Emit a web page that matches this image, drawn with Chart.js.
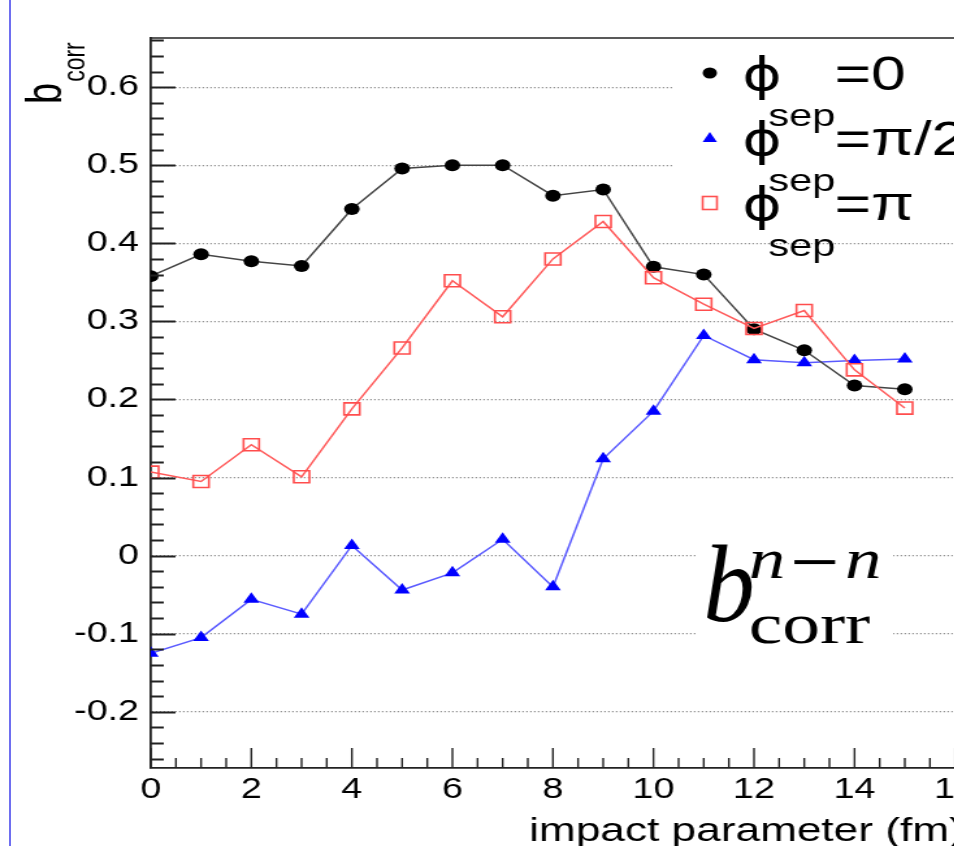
<!DOCTYPE html>
<html>
<head>
<meta charset="utf-8">
<script src="https://cdn.jsdelivr.net/npm/chart.js@4.4.1/dist/chart.umd.min.js"></script>
<style>
  html, body { margin: 0; padding: 0; background: #fff; overflow: hidden; }
  #marco { position: relative; width: 954px; height: 846px; overflow: hidden; }
  /* la figura original esta estirada en horizontal */
  #grafica { position: absolute; left: 0; top: 0; transform: scaleX(1.3); transform-origin: 0 0; }
  #borde { position: absolute; left: 9px; top: 0; width: 2px; height: 846px; background: #6e6ef0; }
</style>
</head>
<body>
<div id="marco">
  <canvas id="grafica" width="770" height="846"></canvas>
  <div id="borde"></div>
</div>
<script>
// parametro de impacto (fm)
const impactParam = [0, 1, 2, 3, 4, 5, 6, 7, 8, 9, 10, 11, 12, 13, 14, 15];
// b_corr para cada phi_sep
const phiSep0     = [0.358, 0.386, 0.377, 0.371, 0.444, 0.496, 0.500, 0.500, 0.461, 0.469, 0.370, 0.360, 0.290, 0.263, 0.218, 0.213];
const phiSepPi2   = [-0.125, -0.105, -0.056, -0.075, 0.013, -0.044, -0.022, 0.021, -0.040, 0.124, 0.185, 0.282, 0.251, 0.247, 0.250, 0.252];
const phiSepPi    = [0.107, 0.095, 0.142, 0.101, 0.188, 0.266, 0.352, 0.306, 0.380, 0.428, 0.356, 0.322, 0.291, 0.314, 0.238, 0.189];
// etiquetas de los ejes
const xTicks = [0, 2, 4, 6, 8, 10, 12, 14, 16];
const yTicks = [-0.2, -0.1, 0, 0.1, 0.2, 0.3, 0.4, 0.5, 0.6];

const SANS = '"Liberation Sans", Arial, Helvetica, sans-serif';
const SERIF = '"Liberation Serif", "Times New Roman", serif';

function puntos(ys) {
    return impactParam.map((x, i) => ({ x: x, y: ys[i] }));
}

function marcador(ctx, tipo, x, y, color) {
    ctx.save();
    ctx.beginPath();
    if (tipo === 'circle') {
        ctx.fillStyle = color;
        ctx.arc(x, y, 5.5, 0, Math.PI * 2);
        ctx.fill();
    } else if (tipo === 'triangle') {
        ctx.fillStyle = color;
        ctx.moveTo(x, y - 6);
        ctx.lineTo(x + 5.5, y + 4);
        ctx.lineTo(x - 5.5, y + 4);
        ctx.closePath();
        ctx.fill();
    } else {
        ctx.strokeStyle = color;
        ctx.lineWidth = 1.6;
        ctx.strokeRect(x - 5.5, y - 6.5, 11, 13);
    }
    ctx.restore();
}

const adornos = {
    id: 'adornos',
    beforeDatasetsDraw(chart) {
        const ctx = chart.ctx;
        ctx.save();
        ctx.fillStyle = '#fff';
        ctx.fillRect(517, 42, 260, 192);   // caja de la leyenda
        ctx.fillRect(536, 528, 151, 128);  // caja de la etiqueta
        ctx.restore();
    },
    afterDraw(chart) {
        const ctx = chart.ctx;
        const a = chart.chartArea;
        const xs = chart.scales.x, ys = chart.scales.y;

        // marco superior y marcas hacia dentro
        ctx.save();
        ctx.strokeStyle = '#222';
        ctx.lineWidth = 1.6;
        ctx.beginPath();
        ctx.moveTo(a.left, a.top);
        ctx.lineTo(a.right, a.top);
        ctx.stroke();
        ctx.beginPath();
        ctx.lineWidth = 1.8;
        for (let i = Math.ceil(ys.min / 0.02); i * 0.02 <= ys.max + 1e-9; i++) {
            const py = Math.round(ys.getPixelForValue(i * 0.02)) + 0.5;
            const largo = (i % 5 === 0) ? 19 : 10;
            ctx.moveTo(a.left, py);
            ctx.lineTo(a.left + largo, py);
        }
        ctx.stroke();
        ctx.beginPath();
        ctx.lineWidth = 1.4;
        for (let i = 0; i * 0.5 <= xs.max + 1e-9; i++) {
            const px = xs.getPixelForValue(i * 0.5);
            const largo = (i % 4 === 0) ? 20 : 10;
            ctx.moveTo(px, a.bottom);
            ctx.lineTo(px, a.bottom - largo);
        }
        ctx.stroke();
        ctx.restore();

        // titulo del eje y: b_corr (girado)
        ctx.save();
        ctx.translate(47, 104);
        ctx.rotate(-Math.PI / 2);
        ctx.fillStyle = '#000';
        ctx.textBaseline = 'alphabetic';
        ctx.font = '38px ' + SANS;
        ctx.fillText('b', 0, 0);
        const anchoB = ctx.measureText('b').width;
        ctx.font = '23px ' + SANS;
        ctx.fillText('corr', anchoB + 1, 18);
        ctx.restore();

        // titulo del eje x
        ctx.save();
        ctx.fillStyle = '#000';
        ctx.font = '34px ' + SANS;
        ctx.textBaseline = 'alphabetic';
        ctx.fillText('impact parameter (fm)', 407, 841);
        ctx.restore();

        // leyenda
        const filas = [
            { tipo: 'circle', color: '#000', texto: '=0' },
            { tipo: 'triangle', color: '#0000ff', texto: '=\u03c0/2' },
            { tipo: 'rect', color: '#ff5050', texto: '=\u03c0' }
        ];
        ctx.save();
        ctx.fillStyle = '#000';
        ctx.textBaseline = 'alphabetic';
        filas.forEach((f, i) => {
            const yc = 73 + i * 65;
            marcador(ctx, f.tipo, 546, yc, f.color);
            ctx.font = '46px "DejaVu Sans", ' + SANS;
            ctx.fillText('\u03d5', 571, yc + 17);
            ctx.font = '48px ' + SANS;
            ctx.fillText(f.texto, 642, yc + 17);
            ctx.font = '32px ' + SANS;
            ctx.fillText('sep', 591, yc + 53);
        });
        ctx.restore();

        // etiqueta b_corr^{n-n}
        ctx.save();
        ctx.fillStyle = '#000';
        ctx.textBaseline = 'alphabetic';
        ctx.save();
        ctx.translate(541, 621);
        ctx.scale(0.72, 1);
        ctx.font = 'italic 110px ' + SERIF;
        ctx.fillText('b', 0, 0);
        ctx.restore();
        ctx.font = 'italic 56px ' + SERIF;
        ctx.fillText('n', 576, 578);
        ctx.fillText('n', 650, 578);
        ctx.font = '50px "DejaVu Serif", ' + SERIF;
        ctx.fillText('\u2212', 606, 578);
        ctx.font = '58px ' + SERIF;
        ctx.fillText('corr', 576, 643);
        ctx.restore();
    }
};

const ctx = document.getElementById('grafica').getContext('2d');
const chart = new Chart(ctx, {
    type: 'line',
    data: {
        datasets: [
            {
                label: 'phi_sep = pi',
                data: puntos(phiSepPi),
                borderColor: '#ff5a5a',
                borderWidth: 1.5,
                pointStyle: 'rect',
                pointRadius: 8.5,
                pointBorderWidth: 1.6,
                pointBorderColor: '#ff4d4d',
                pointBackgroundColor: 'rgba(0,0,0,0)',
                tension: 0,
                order: 0
            },
            {
                label: 'phi_sep = 0',
                data: puntos(phiSep0),
                borderColor: '#444',
                borderWidth: 1.5,
                pointStyle: 'circle',
                pointRadius: 6,
                pointBorderWidth: 0,
                pointBackgroundColor: '#000',
                tension: 0,
                order: 1
            },
            {
                label: 'phi_sep = pi/2',
                data: puntos(phiSepPi2),
                borderColor: '#5a5aff',
                borderWidth: 1.5,
                pointStyle: 'triangle',
                pointRadius: 7,
                pointBorderWidth: 0,
                pointBackgroundColor: '#0000ff',
                tension: 0,
                order: 2
            }
        ]
    },
    options: {
        responsive: false,
        animation: false,
        layout: { padding: { left: 0, top: 38, right: 16, bottom: 0 } },
        plugins: {
            legend: { display: false },
            tooltip: { enabled: false }
        },
        scales: {
            x: {
                type: 'linear',
                min: 0,
                max: 16.5,
                afterBuildTicks: s => { s.ticks = xTicks.map(v => ({ value: v })); },
                afterFit: s => { s.height = 78; },
                ticks: {
                    padding: 5,
                    color: '#000',
                    font: { family: SANS, size: 29 },
                    maxRotation: 0,
                    callback: v => String(v)
                },
                grid: { display: false, drawTicks: false },
                border: { display: true, color: '#222', width: 1.8 }
            },
            y: {
                type: 'linear',
                min: -0.272,
                max: 0.663,
                afterBuildTicks: s => { s.ticks = yTicks.map(v => ({ value: v })); },
                afterFit: s => { s.width = 116; },
                ticks: {
                    padding: 9,
                    color: '#000',
                    font: { family: SANS, size: 29 },
                    callback: v => (v === 0 ? '0' : v.toFixed(1))
                },
                grid: { color: '#777', lineWidth: 1.3, drawTicks: false },
                border: { display: true, color: '#222', width: 1.8, dash: [1, 2] }
            }
        }
    },
    plugins: [adornos]
});
</script>
</body>
</html>
